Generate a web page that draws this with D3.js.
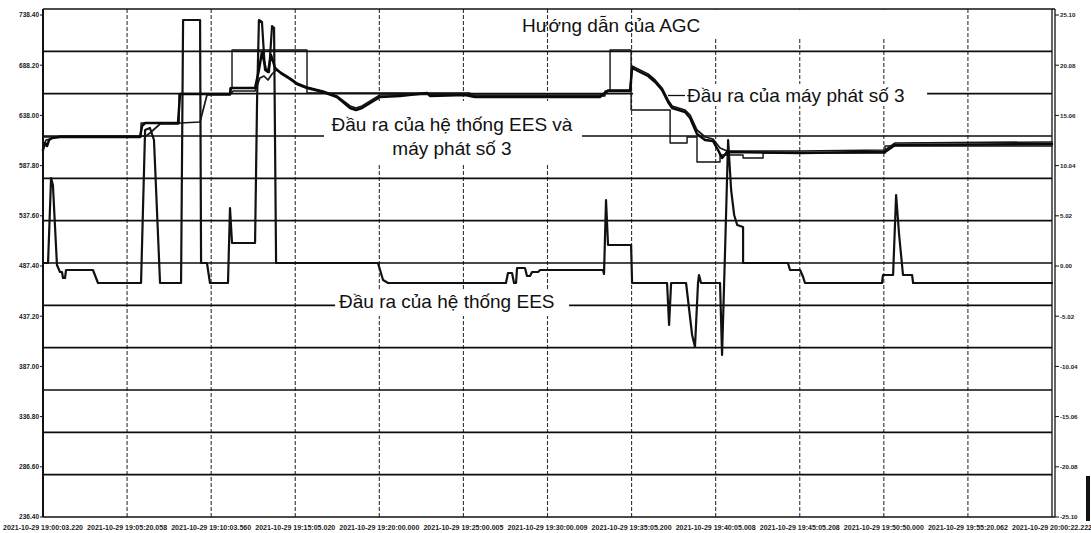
<!DOCTYPE html>
<html>
<head>
<meta charset="utf-8">
<script src="https://cdn.jsdelivr.net/npm/d3@7/dist/d3.min.js"></script>
<style>
  html, body { margin: 0; padding: 0; background: #fff; }
  svg { display: block; }
  text { font-family: "Liberation Sans", Arial, sans-serif; }
</style>
</head>
<body>
<svg id="chart" width="1091" height="533"></svg>
<script>
// ---- time axis: minutes since the first sample, one grid column = 5 min ----
const timeTicks = [0, 5, 10, 15, 20, 25, 30, 35, 40, 45, 50, 55, 60];
const timeLabels = [
  "2021-10-29 19:00:03.220", "2021-10-29 19:05:20.058", "2021-10-29 19:10:03.560",
  "2021-10-29 19:15:05.020", "2021-10-29 19:20:00.000", "2021-10-29 19:25:00.005",
  "2021-10-29 19:30:00.009", "2021-10-29 19:35:05.200", "2021-10-29 19:40:05.008",
  "2021-10-29 19:45:05.208", "2021-10-29 19:50:50.000", "2021-10-29 19:55:20.062",
  "2021-10-29 20:00:22.222"
];

// ---- left axis (MW): generator 3 / EES + generator 3 / AGC instruction ----
const leftTicks = [236.40, 286.60, 336.80, 387.00, 437.20, 487.40, 537.60, 587.80, 638.00, 688.20, 738.40];
const leftGrid  = [236.40, 278.73, 321.07, 363.40, 405.73, 448.07, 490.40, 532.73, 575.07, 617.40, 659.73, 702.07, 744.40];

// ---- right axis (MW): EES output ----
const rightTicks = [25.10, 20.08, 15.06, 10.04, 5.02, 0.00, -5.02, -10.04, -15.06, -20.08, -25.10];

// AGC instruction (step signal)
const agcTime  = [0, 5.83, 5.83, 8.09, 8.09, 11.12, 11.12, 11.24, 11.24, 15.70, 15.70, 25.39, 25.39, 33.42, 33.42, 33.72, 33.72, 34.97, 34.97, 37.29, 37.29, 38.30, 38.30, 38.89, 38.89, 40.26, 40.26, 41.63, 41.63, 42.82, 42.82, 50.07, 50.07, 60];
const agcValue = [616.4, 616.4, 630.4, 630.4, 659.4, 659.4, 665.4, 665.4, 703.4, 703.4, 660.4, 660.4, 657.4, 657.4, 662.4, 662.4, 703.4, 703.4, 643.4, 643.4, 610.4, 610.4, 616.4, 616.4, 591.4, 591.4, 598.4, 598.4, 595.4, 595.4, 600.4, 600.4, 607.4, 607.4];

// Generator 3 output
const gen3Time  = [0, 0.18, 0.42, 1.01, 5.77, 6.13, 6.36, 6.96, 8.03, 8.15, 9.34, 9.75, 11.12, 11.30, 12.61, 12.90, 13.14, 13.38, 13.62, 13.86, 14.21, 14.69, 15.10, 15.70, 16.65, 17.48, 18.26, 18.61, 18.97, 20.04, 25.10, 25.69, 33.12, 33.36, 33.60, 34.91, 35.03, 35.50, 35.98, 36.40, 36.81, 37.17, 37.41, 38.18, 38.48, 38.89, 39.37, 39.84, 40.26, 40.68, 45.02, 50.07, 50.67, 60];
const gen3Value = [605.4, 613.4, 614.4, 617.4, 617.4, 617.4, 620.4, 629.4, 629.4, 630.4, 631.4, 658.4, 658.4, 662.4, 662.4, 675.4, 677.4, 673.4, 679.4, 683.4, 680.4, 675.4, 670.4, 666.4, 662.4, 657.4, 647.4, 645.4, 647.4, 658.4, 659.4, 658.4, 658.4, 660.4, 663.4, 663.4, 687.4, 683.4, 679.4, 673.4, 665.4, 653.4, 647.4, 643.4, 638.4, 623.4, 616.4, 614.4, 605.4, 602.4, 602.4, 603.4, 610.4, 611.4];

// EES + generator 3 output
const sumTime  = [0, 0.12, 0.24, 0.36, 0.54, 1.01, 5.77, 5.89, 6.07, 8.03, 8.15, 11.12, 11.18, 12.61, 12.84, 13.02, 13.26, 13.38, 13.56, 13.80, 14.21, 14.69, 15.10, 15.70, 16.65, 17.48, 18.26, 18.61, 18.97, 20.04, 21.23, 22.84, 23.01, 25.10, 25.69, 33.12, 33.36, 33.60, 34.91, 35.03, 35.50, 35.98, 36.40, 36.81, 37.17, 37.41, 38.18, 38.48, 38.89, 39.37, 39.84, 40.14, 40.38, 40.68, 45.02, 49.18, 50.07, 50.67, 60];
const sumValue = [603.4, 610.4, 607.4, 613.4, 615.4, 616.4, 616.4, 627.4, 630.4, 630.4, 659.4, 659.4, 665.4, 665.4, 683.4, 701.4, 683.4, 681.4, 698.4, 685.4, 679.4, 674.4, 669.4, 665.4, 661.4, 656.4, 645.4, 643.4, 645.4, 656.4, 657.4, 660.4, 657.4, 658.4, 656.4, 656.4, 659.4, 662.4, 662.4, 685.4, 681.4, 677.4, 671.4, 663.4, 651.4, 645.4, 641.4, 635.4, 619.4, 613.4, 612.4, 603.4, 595.4, 601.4, 600.4, 601.4, 601.4, 608.4, 609.4];

// EES output (right axis)
const eesTime  = [0, 0.30, 0.48, 0.59, 0.83, 1.01, 1.13, 1.19, 1.31, 1.37, 2.97, 3.27, 5.83, 6.07, 6.36, 6.60, 6.96, 8.21, 8.33, 9.34, 9.40, 9.75, 9.93, 11.00, 11.12, 11.24, 12.61, 12.73, 12.84, 13.02, 13.20, 13.44, 13.62, 13.74, 13.86, 19.92, 20.22, 20.52, 27.53, 27.65, 27.89, 28.01, 28.13, 28.19, 28.66, 28.78, 28.96, 29.08, 29.44, 29.56, 33.30, 33.36, 33.48, 33.60, 34.97, 35.03, 37.11, 37.23, 37.35, 38.24, 38.60, 38.77, 38.95, 39.01, 39.13, 40.26, 40.38, 40.56, 40.74, 40.92, 41.10, 41.28, 41.63, 41.63, 44.30, 44.42, 45.02, 45.20, 45.31, 49.89, 49.95, 50.55, 50.73, 50.91, 51.14, 51.68, 51.74, 60];
const eesValue = [0.3, 0.3, 8.8, 8.1, 0.1, -0.6, -0.6, -1.2, -1.2, -0.4, -0.4, -1.7, -1.7, 13.6, 13.8, 12.6, -1.7, -1.7, 24.6, 24.6, 0.3, 0.3, -1.7, -1.7, 5.8, 2.3, 2.3, 16.6, 24.6, 24.4, 19.6, 19.4, 24.0, 23.8, 0.3, 0.3, -1.4, -1.7, -1.7, -0.7, -0.7, -1.7, -1.7, -0.2, -0.2, -1.0, -1.0, -0.6, -0.6, -0.4, -0.4, -0.8, 6.6, 2.1, 2.1, -1.7, -1.7, -5.9, -1.7, -1.7, -6.9, -8.1, -1.7, -0.9, -1.7, -1.7, -8.9, 1.6, 12.6, 7.6, 5.1, 4.1, 3.9, 0.3, 0.3, -0.4, -0.4, -1.1, -1.7, -1.7, -0.9, -0.9, 7.1, 3.1, -0.9, -0.9, -1.7, -1.7];

// ---------------------------------------------------------------------------
const svg = d3.select("#chart");
const W = 1091, H = 533;
const plot = { left: 43, right: 1052, top: 9, bottom: 517 };

svg.append("rect").attr("width", W).attr("height", H).attr("fill", "#fff");

const x  = d3.scaleLinear().domain([0, 60]).range([plot.left, plot.right]);
const yL = d3.scaleLinear().domain([236.4, 744.4]).range([plot.bottom, plot.top]);
const yR = d3.scaleLinear().domain([-25.1, 25.7]).range([plot.bottom, plot.top]);

// grid
const grid = svg.append("g");
grid.selectAll(".vg").data(timeTicks.slice(1, -1)).join("line")
  .attr("x1", d => x(d)).attr("x2", d => x(d))
  .attr("y1", plot.top).attr("y2", plot.bottom)
  .attr("stroke", "#333").attr("stroke-width", 1.1)
  .attr("stroke-dasharray", "4,2");
grid.selectAll(".hg").data(leftGrid.slice(1, -1)).join("line")
  .attr("x1", plot.left).attr("x2", plot.right)
  .attr("y1", d => yL(d)).attr("y2", d => yL(d))
  .attr("stroke", "#0d0d0d").attr("stroke-width", 1.6);

// white backing under the annotation texts (hides the grid behind them)
const backs = svg.append("g").attr("fill", "#fff");
backs.append("rect").attr("x", x(39.1)).attr("y", 10).attr("width", 200).attr("height", 27);
backs.append("rect").attr("x", x(16.71)).attr("y", yL(652.4)).attr("width", 258).attr("height", 62);
backs.append("rect").attr("x", x(17.37)).attr("y", yL(464.4)).attr("width", 234).attr("height", 27);
backs.append("rect").attr("x", x(35.09)).attr("y", yL(669.4)).attr("width", 294).attr("height", 22);

// series
const lineL = (t, v) => d3.line().x((d, i) => x(t[i])).y((d, i) => yL(v[i]))(t);
const lineR = (t, v) => d3.line().x((d, i) => x(t[i])).y((d, i) => yR(v[i]))(t);

const series = svg.append("g").attr("fill", "none")
  .attr("stroke-linejoin", "round").attr("stroke-linecap", "round");
series.append("path").attr("d", lineR(eesTime, eesValue))
  .attr("stroke", "#111").attr("stroke-width", 2.2);
series.append("path").attr("d", lineL(agcTime, agcValue))
  .attr("stroke", "#111").attr("stroke-width", 1.4);
series.append("path").attr("d", lineL(gen3Time, gen3Value))
  .attr("stroke", "#151515").attr("stroke-width", 1.7);
series.append("path").attr("d", lineL(sumTime, sumValue))
  .attr("stroke", "#0a0a0a").attr("stroke-width", 2.5);

// frame
const frame = svg.append("g").attr("stroke", "#111");
frame.append("line").attr("x1", plot.left).attr("x2", plot.right + 3)
  .attr("y1", plot.top).attr("y2", plot.top).attr("stroke-width", 1.5);
frame.append("line").attr("x1", plot.left).attr("x2", plot.right + 3)
  .attr("y1", plot.bottom).attr("y2", plot.bottom).attr("stroke-width", 1.7);
frame.append("line").attr("x1", plot.left).attr("x2", plot.left)
  .attr("y1", plot.top).attr("y2", plot.bottom).attr("stroke-width", 2);
frame.append("line").attr("x1", plot.right).attr("x2", plot.right)
  .attr("y1", plot.top).attr("y2", plot.bottom).attr("stroke-width", 1.3);
frame.append("line").attr("x1", plot.right + 3).attr("x2", plot.right + 3)
  .attr("y1", plot.top).attr("y2", plot.bottom).attr("stroke-width", 1.3);

// left axis
const axL = svg.append("g");
axL.selectAll("line").data(leftTicks).join("line")
  .attr("x1", plot.left - 3).attr("x2", plot.left)
  .attr("y1", d => yL(d)).attr("y2", d => yL(d))
  .attr("stroke", "#111").attr("stroke-width", 1);
axL.selectAll("text").data(leftTicks).join("text")
  .attr("x", plot.left - 4).attr("y", d => yL(d) + 2.3)
  .attr("text-anchor", "end").attr("font-size", 6.5).attr("font-weight", "bold")
  .attr("fill", "#222").text(d => d.toFixed(2));

// right axis
const axR = svg.append("g");
axR.selectAll("line").data(rightTicks).join("line")
  .attr("x1", plot.right + 3).attr("x2", plot.right + 7)
  .attr("y1", d => yR(d)).attr("y2", d => yR(d))
  .attr("stroke", "#111").attr("stroke-width", 1);
axR.selectAll("text").data(rightTicks).join("text")
  .attr("x", plot.right + 8).attr("y", d => yR(d) + 2.3)
  .attr("font-size", 6.2).attr("font-weight", "bold")
  .attr("fill", "#222").text(d => d.toFixed(2));

// time axis labels
svg.append("g").selectAll("text").data(timeTicks).join("text")
  .attr("x", d => x(d)).attr("y", 530)
  .attr("text-anchor", "middle").attr("font-size", 6.6).attr("font-weight", "bold")
  .attr("textLength", 80).attr("lengthAdjust", "spacingAndGlyphs")
  .attr("fill", "#222").text((d, i) => timeLabels[i]);

// annotations
const ann = svg.append("g").attr("fill", "#111").attr("font-size", 19);
ann.append("text").attr("x", 522).attr("y", 32).text("Hướng dẫn của AGC");
ann.append("text").attr("x", 452).attr("y", 131).attr("text-anchor", "middle")
  .text("Đầu ra của hệ thống EES và");
ann.append("text").attr("x", 452).attr("y", 155).attr("text-anchor", "middle")
  .text("máy phát số 3");
ann.append("text").attr("x", 339).attr("y", 308).text("Đầu ra của hệ thống EES");
ann.append("text").attr("x", 687).attr("y", 102).text("Đầu ra của máy phát số 3");
svg.append("line").attr("x1", 668).attr("x2", 685).attr("y1", 95.5).attr("y2", 95.5)
  .attr("stroke", "#111").attr("stroke-width", 1.3);

// dark edge bar at the lower right corner
svg.append("rect").attr("x", 1086).attr("y", 476).attr("width", 4).attr("height", 45).attr("fill", "#111");
</script>
</body>
</html>
